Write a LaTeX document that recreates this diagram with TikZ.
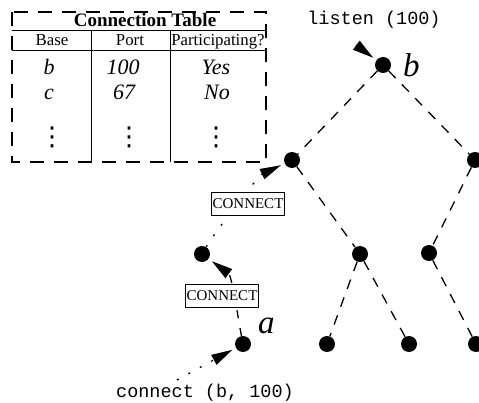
\documentclass[tikz,border=0pt]{standalone}
\usepackage{fontspec}
\setmainfont{Liberation Serif}
\setmonofont{Liberation Mono}
\newfontfamily\symfont{DejaVu Sans}
\usetikzlibrary{arrows.meta}
\tikzset{
  vertex/.style={circle, fill=black, inner sep=0pt, minimum size=16pt},
  treeedge/.style={line width=1.3pt, dash pattern=on 10pt off 9pt},
  msg/.style={line width=1.3pt, dash pattern=on 2pt off 11pt,
    -{Triangle[length=21pt,width=11pt]}, shorten >=4pt},
  msgdash/.style={msg, dash pattern=on 8pt off 10pt},
  cmdbox/.style={draw, fill=white, line width=0.9pt,
    font=\fontsize{15}{18}\selectfont, inner xsep=1.5pt, inner ysep=0pt,
    minimum height=23pt},
  tabtitle/.style={anchor=base, font=\fontsize{19}{22}\bfseries},
  tabhead/.style={anchor=base, font=\fontsize{16.8}{20}\selectfont},
  tabcell/.style={anchor=base, font=\fontsize{22}{26}\selectfont\itshape},
  tabdots/.style={inner sep=0pt, font=\fontsize{26}{30}\symfont},
  nodelabel/.style={anchor=base west, font=\fontsize{33}{38}\selectfont\itshape, inner sep=0pt},
  call/.style={anchor=base, font=\fontsize{18.5}{22}\selectfont\ttfamily, inner sep=0pt}
}
\begin{document}
\begin{tikzpicture}[x=1pt, y=-1pt]
\useasboundingbox (0,0) rectangle (479,403);

% ---- connection table ----
\draw[line width=1.2pt, dash pattern=on 14pt off 10pt] (12,12) rectangle (266,162);
\draw[line width=1.2pt] (12,30.7) -- (266,30.7);
\draw[line width=1.2pt] (12,50.7) -- (266,50.7);
\draw[line width=1.2pt] (91.7,30.7) -- (91.7,162);
\draw[line width=1.2pt] (170.3,30.7) -- (170.3,162);
\node[tabtitle] (title) at (145,26.7) {Connection Table};
\node[tabhead] (hbase) at (52,46) {Base};
\node[tabhead] (hport) at (130,46) {Port};
\node[tabhead] (hpart) at (218,46) {Participating?};
\node[tabcell] (r1a) at (49,75) {b};
\node[tabcell] (r1b) at (123,75) {100};
\node[tabcell] (r1c) at (216,75) {Yes};
\node[tabcell] (r2a) at (49,100) {c};
\node[tabcell] (r2b) at (124,100) {67};
\node[tabcell] (r2c) at (217,100) {No};
\node[tabdots] (d1) at (52,137) {⋮};
\node[tabdots] (d2) at (129,137) {⋮};
\node[tabdots] (d3) at (216,137) {⋮};

% ---- tree ----
\node[vertex] (b)  at (383,65) {};
\node[vertex] (L1) at (292,160) {};
\node[vertex] (R1) at (475,160) {};
\node[vertex] (LL) at (202,254) {};
\node[vertex] (LR) at (360,254) {};
\node[vertex] (RL) at (429,253) {};
\node[vertex] (a)  at (243,344) {};
\node[vertex] (m1) at (327,344) {};
\node[vertex] (m2) at (409,344) {};
\node[vertex] (m3) at (476,344) {};

\node[nodelabel] (blab) at (403,77) {b};
\node[nodelabel] (alab) at (258,333) {a};

\draw[treeedge] (b) -- (L1);
\draw[treeedge] (b) -- (R1);
\draw[treeedge] (L1) -- (LR);
\draw[treeedge] (LR) -- (m1);
\draw[treeedge] (LR) -- (m2);
\draw[treeedge] (R1) -- (RL);
\draw[treeedge] (RL) -- (m3);

% ---- messages ----
\node[call] (listen) at (374,25) {listen (100)};
\node[call] (conn) at (205,397) {connect (b, 100)};
\coordinate (lstart) at (356,45);
\coordinate (cstart) at (177,380);
\draw[msg] (lstart) -- (b);
\draw[msg] (cstart) -- (a);
\draw[msgdash] (a) .. controls (238,318) and (232,276) .. (LL);
\draw[msg] (LL) .. controls (215,232) and (258,176) .. (L1);
\node[cmdbox] (c1) at (248,203.5) {CONNECT};
\node[cmdbox] (c2) at (222,296) {CONNECT};
\end{tikzpicture}
\end{document}
